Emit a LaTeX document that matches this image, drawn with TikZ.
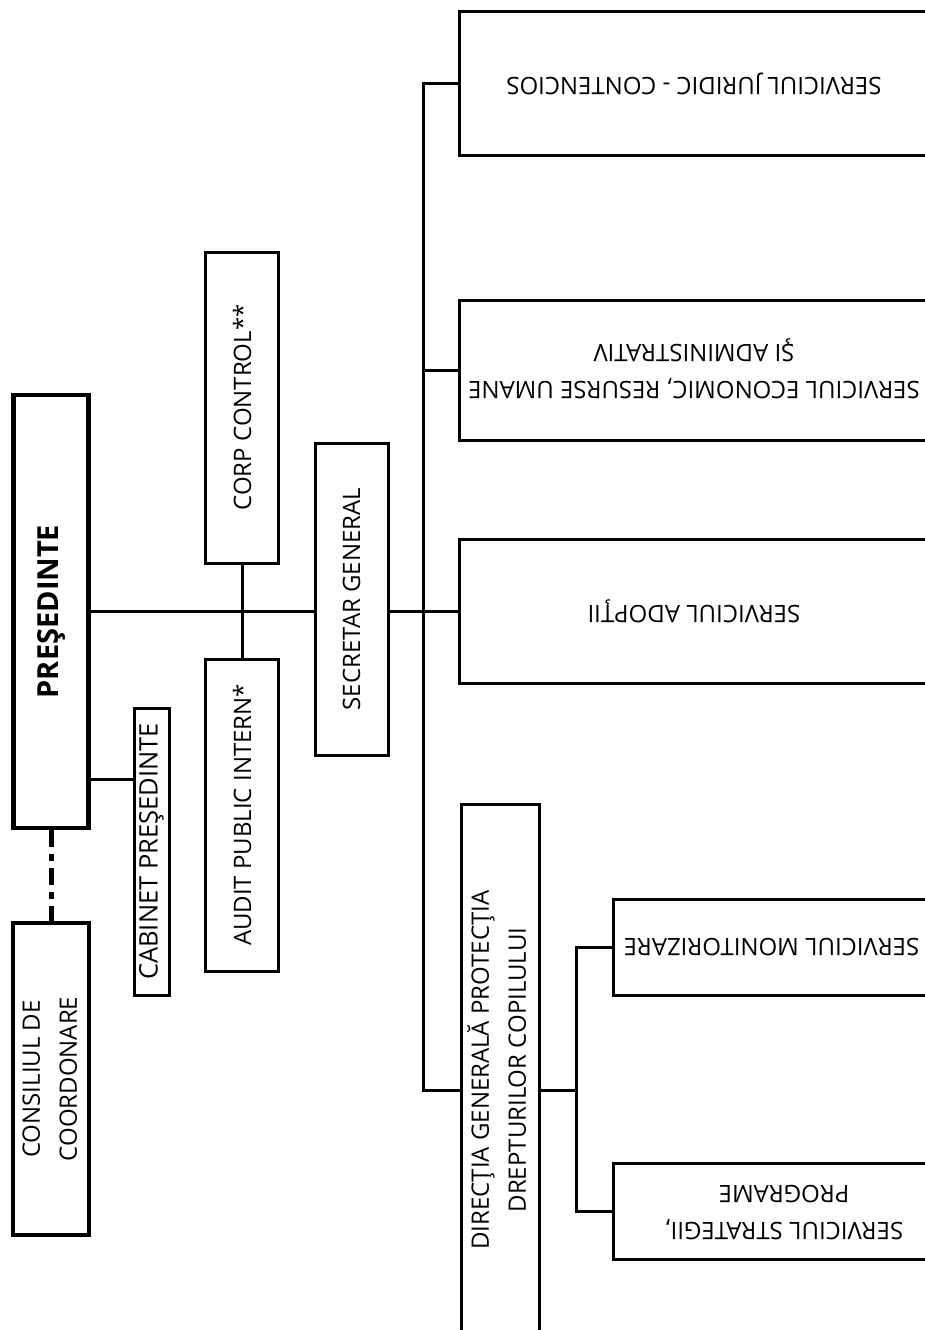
\documentclass[tikz,border=0pt]{standalone}
\usepackage{graphicx}
\usepackage{fontspec}
\setmainfont{Open Sans}
\usetikzlibrary{calc}
\def\uptext#1{\rotatebox{90}{\begin{tabular}{@{}c@{}}#1\end{tabular}}}
\def\downtext#1{\rotatebox{180}{\begin{tabular}{@{}c@{}}#1\end{tabular}}}

\tikzset{
	unit/.style={draw, line width=3pt, inner sep=0pt, font=\fontsize{24}{37}\selectfont},
	chief/.style={unit, line width=4.5pt, font=\fontsize{29}{35}\selectfont\bfseries},
	link/.style={line width=3pt},
	dashdotline/.style={line width=5pt, dash pattern=on 17pt off 7pt on 7pt off 7pt}
}

\begin{document}
\begin{tikzpicture}[x=1pt, y=-1pt]
			%%%%% START %%%%%
			\useasboundingbox (0, 0) rectangle (925, 1330);
			
			\node[chief, minimum width=75pt, minimum height=433pt] (presedinte) at (51, 611.5) {\rotatebox{90}{PREŞEDINTE}};
			\node[unit, line width=4pt, minimum width=76pt, minimum height=312pt] (consiliu) at (51, 1079) {\uptext{CONSILIUL DE\\COORDONARE}};
			\node[unit, minimum width=35pt, minimum height=287pt, font=\fontsize{25.5}{30}\selectfont] (cabinet) at (151.5, 851.5) {\rotatebox{90}{CABINET PREŞEDINTE}};
			
			\node[unit, minimum width=73pt, minimum height=311pt] (corp) at (242, 407.5) {\rotatebox{90}{CORP CONTROL**}};
			\node[unit, minimum width=73pt, minimum height=312pt] (audit) at (242, 815) {\rotatebox{90}{AUDIT PUBLIC INTERN*}};
			\node[unit, minimum width=73pt, minimum height=312pt] (secretar) at (351.5, 599) {\rotatebox{90}{SECRETAR GENERAL}};
			
			\node[unit, minimum width=470pt, minimum height=143pt] (juridic) at (694, 83.5) {\rotatebox{180}{SERVICIUL JURIDIC - CONTENCIOS}};
			\node[unit, minimum width=470pt, minimum height=140pt] (economic) at (694, 370) {\downtext{SERVICIUL ECONOMIC, RESURSE UMANE\\ŞI ADMINISTRATIV}};
			\node[unit, minimum width=470pt, minimum height=144pt] (adoptii) at (694, 611) {\rotatebox{180}{SERVICIUL ADOPŢII}};
			
			\node[unit, minimum width=78pt, minimum height=532pt] (dgpdc) at (500, 1070) {\uptext{DIRECŢIA GENERALĂ PROTECŢIA\\DREPTURILOR COPILULUI}};
			\node[unit, minimum width=317pt, minimum height=96pt] (monitor) at (771.5, 947) {\rotatebox{180}{SERVICIUL MONITORIZARE}};
			\node[unit, minimum width=342pt, minimum height=96pt] (strategii) at (784, 1211) {\downtext{SERVICIUL STRATEGII,\\PROGRAME}};
			
			% taps on the lines
			\coordinate (cabtap) at ($(presedinte.east |- 0, 779)$);
			\coordinate (dgtap) at (423, 1090);
			\coordinate (subtap) at (576, 1090);
			
			\draw[dashdotline] (presedinte.south) -- (consiliu.north);
			\draw[link] (cabtap) -- (cabinet.west |- cabtap);
			\draw[link] (presedinte.east) -- (secretar.west |- presedinte.east);
			\draw[link] (corp.south) -- (audit.north);
			\draw[link] (secretar.east |- adoptii.west) -- (adoptii.west);
			
			\draw[link] (juridic.west) -| (dgtap) -- (dgpdc.west |- dgtap);
			\draw[link] (economic.west) -- (dgtap |- economic.west);
			\draw[link] (dgpdc.east |- subtap) -- (subtap);
			\draw[link] (monitor.west) -| (subtap) |- (strategii.west);
			%%%%% END %%%%%
\end{tikzpicture}
\end{document}
